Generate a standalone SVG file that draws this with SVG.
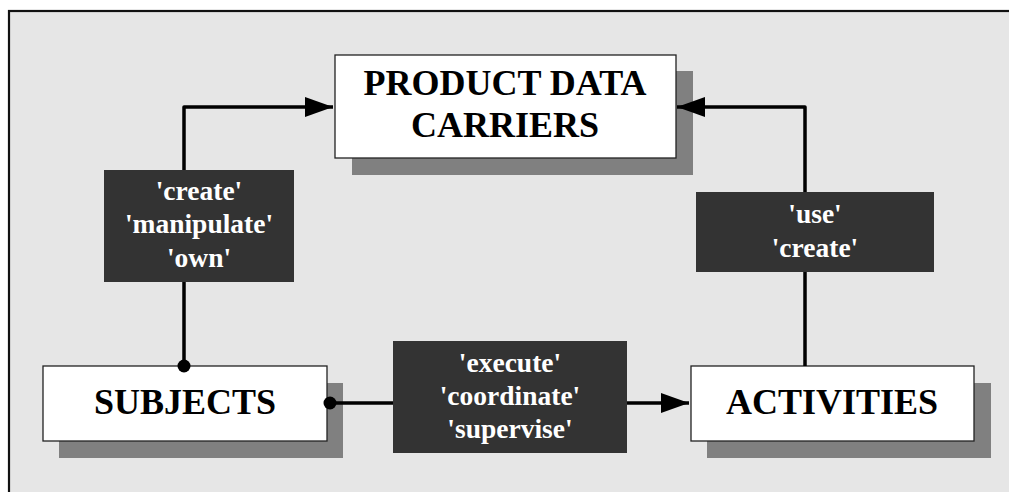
<svg xmlns="http://www.w3.org/2000/svg" width="1009" height="492" viewBox="0 0 1009 492">
<defs>
<style>
.shadow{fill:#808080}
.box{fill:#ffffff;stroke:#222222;stroke-width:1.3}
.lbl{fill:#333333}
.nt{font-weight:bold;font-size:36px;fill:#000;text-anchor:middle}
.lt{font-weight:bold;font-size:27.5px;fill:#ffffff;text-anchor:middle}
.con{fill:none;stroke:#000;stroke-width:3.5;stroke-linejoin:round}
</style>
<marker id="arr" markerWidth="28" markerHeight="20" refX="28" refY="10" orient="auto" markerUnits="userSpaceOnUse">
<path d="M0,0 L28,10 L0,20 Z" fill="#000"/>
</marker>
</defs>
<rect x="9" y="11" width="1020" height="500" fill="#e6e6e6" stroke="#111" stroke-width="2.2"/>
<g font-family="'Liberation Serif', 'Times New Roman', 'DejaVu Serif', serif">
<g id="node-pdc">
<rect class="shadow" x="352" y="71" width="341" height="104"/>
<rect class="box" x="335" y="55" width="341" height="103"/>
<text class="nt" x="505" y="95">PRODUCT DATA</text>
<text class="nt" x="505" y="137">CARRIERS</text>
</g>
<g id="node-subjects">
<rect class="shadow" x="59" y="383" width="284" height="75"/>
<rect class="box" x="43" y="366" width="284" height="75"/>
<text class="nt" x="185" y="414">SUBJECTS</text>
</g>
<g id="node-activities">
<rect class="shadow" x="707" y="383" width="284" height="75"/>
<rect class="box" x="691" y="366" width="283" height="75"/>
<text class="nt" x="832" y="414">ACTIVITIES</text>
</g>
<g id="connectors">
<path class="con" d="M184,366 L184,107 L333,107" marker-end="url(#arr)"/>
<path class="con" d="M805,366 L805,107 L677,107" marker-end="url(#arr)"/>
<path class="con" d="M330,403 L689,403" marker-end="url(#arr)"/>
<circle cx="184" cy="366" r="6.5" fill="#000"/>
<circle cx="330" cy="403" r="6.5" fill="#000"/>
</g>
<g id="label-create-manipulate-own">
<rect class="lbl" x="104" y="170" width="190" height="112"/>
<text class="lt" x="199" y="200">'create'</text>
<text class="lt" x="199" y="233">'manipulate'</text>
<text class="lt" x="199" y="267">'own'</text>
</g>
<g id="label-use-create">
<rect class="lbl" x="696" y="192" width="238" height="80"/>
<text class="lt" x="815" y="223">'use'</text>
<text class="lt" x="815" y="257">'create'</text>
</g>
<g id="label-execute">
<rect class="lbl" x="393" y="341" width="234" height="112"/>
<text class="lt" x="510" y="372">'execute'</text>
<text class="lt" x="510" y="405">'coordinate'</text>
<text class="lt" x="510" y="438">'supervise'</text>
</g>
</g>
</svg>
